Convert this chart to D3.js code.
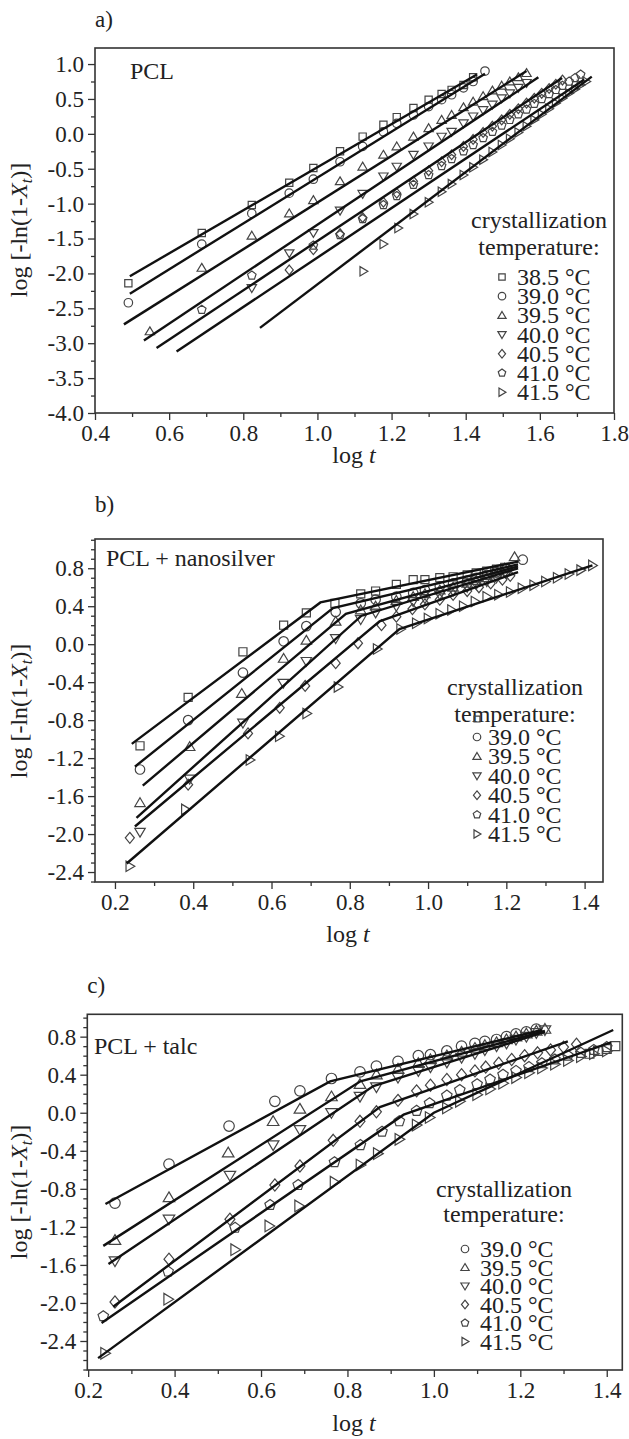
<!DOCTYPE html>
<html>
<head>
<meta charset="utf-8">
<script src="https://cdn.jsdelivr.net/npm/d3@7"></script>
<style>
body { margin: 0; background: #fff; }
svg { display: block; }
</style>
</head>
<body>
<svg width="629" height="1439"></svg>
<script>
// ---- panel a) PCL ----
var aTemps = ["38.5 °C", "39.0 °C", "39.5 °C", "40.0 °C", "40.5 °C", "41.0 °C", "41.5 °C"];
var aSyms = ["square", "circle", "up", "down", "diamond", "pentagon", "right"];
var a385 = [[0.49,-2.14],[0.688,-1.42],[0.823,-1.02],[0.924,-0.70],[0.989,-0.49],[1.061,-0.25],[1.122,-0.04],[1.178,0.13],[1.214,0.24],[1.259,0.37],[1.30,0.49],[1.335,0.57],[1.362,0.63],[1.394,0.70],[1.42,0.81]];
var a390 = [[0.49,-2.42],[0.688,-1.58],[0.823,-1.14],[0.924,-0.85],[0.989,-0.65],[1.061,-0.40],[1.122,-0.18],[1.178,0.03],[1.214,0.15],[1.259,0.27],[1.30,0.39],[1.335,0.49],[1.362,0.56],[1.394,0.66],[1.42,0.75],[1.452,0.90]];
var a395 = [[0.548,-2.83],[0.688,-1.92],[0.823,-1.46],[0.924,-1.14],[0.989,-0.95],[1.061,-0.68],[1.122,-0.47],[1.178,-0.30],[1.214,-0.18],[1.259,-0.04],[1.30,0.08],[1.335,0.20],[1.362,0.27],[1.394,0.38],[1.42,0.46],[1.447,0.54],[1.472,0.62],[1.497,0.69],[1.519,0.75],[1.542,0.81],[1.564,0.87]];
var a400 = [[0.823,-2.21],[0.924,-1.71],[0.989,-1.42],[1.061,-1.10],[1.122,-0.86],[1.178,-0.61],[1.214,-0.47],[1.259,-0.30],[1.30,-0.18],[1.335,-0.04],[1.362,0.03],[1.394,0.15],[1.42,0.25],[1.447,0.34],[1.472,0.42],[1.497,0.51],[1.519,0.58],[1.542,0.66],[1.564,0.73]];
var a405 = [[0.924,-1.95],[0.989,-1.66],[1.061,-1.43],[1.122,-1.20],[1.178,-0.98],[1.214,-0.85],[1.259,-0.68],[1.30,-0.53],[1.335,-0.40],[1.362,-0.30],[1.394,-0.18],[1.42,-0.08],[1.447,0.02],[1.472,0.11],[1.497,0.20],[1.519,0.28],[1.542,0.36],[1.564,0.44],[1.585,0.51],[1.605,0.58],[1.625,0.65],[1.643,0.71],[1.661,0.77]];
var a410 = [[0.688,-2.52],[0.823,-2.03],[0.989,-1.60],[1.061,-1.45],[1.122,-1.22],[1.178,-1.02],[1.214,-0.89],[1.259,-0.73],[1.30,-0.59],[1.335,-0.46],[1.362,-0.36],[1.394,-0.25],[1.42,-0.16],[1.447,-0.06],[1.472,0.03],[1.497,0.12],[1.519,0.20],[1.542,0.28],[1.564,0.35],[1.585,0.43],[1.605,0.50],[1.625,0.57],[1.643,0.63],[1.661,0.69],[1.679,0.75],[1.695,0.80],[1.71,0.85]];
var a415 = [[1.124,-1.97],[1.178,-1.58],[1.218,-1.35],[1.259,-1.15],[1.30,-0.98],[1.335,-0.83],[1.362,-0.72],[1.394,-0.59],[1.42,-0.48],[1.447,-0.37],[1.472,-0.26],[1.497,-0.16],[1.519,-0.07],[1.542,0.02],[1.564,0.11],[1.585,0.20],[1.605,0.28],[1.625,0.36],[1.643,0.44],[1.661,0.51],[1.679,0.58],[1.695,0.64],[1.71,0.70],[1.725,0.75]];
// fitted straight lines (end points)
var aFit = [
  [[0.494,-2.04],[1.43,0.85]],
  [[0.494,-2.29],[1.452,0.86]],
  [[0.478,-2.73],[1.564,0.90]],
  [[0.532,-2.96],[1.596,0.81]],
  [[0.566,-3.07],[1.66,0.80]],
  [[0.62,-3.12],[1.72,0.78]],
  [[0.845,-2.78],[1.74,0.82]]
];

// ---- panel b) PCL + nanosilver ----
var bTemps = ["39.0 °C", "39.5 °C", "40.0 °C", "40.5 °C", "41.0 °C", "41.5 °C"];
var bSyms = ["circle", "up", "down", "diamond", "pentagon", "right"];
var bSq = [[0.264,-1.07],[0.387,-0.56],[0.527,-0.08],[0.631,0.20],[0.689,0.33],[0.762,0.43],[0.828,0.53],[0.866,0.56],[0.919,0.63],[0.962,0.68],[0.992,0.68],[1.03,0.70],[1.064,0.71],[1.10,0.73],[1.123,0.75],[1.15,0.77],[1.175,0.79],[1.196,0.81]];
var bCi = [[0.264,-1.32],[0.387,-0.80],[0.527,-0.30],[0.631,0.03],[0.689,0.19],[0.764,0.34],[0.828,0.43],[0.866,0.47],[0.919,0.50],[0.962,0.54],[0.992,0.57],[1.03,0.61],[1.064,0.64],[1.10,0.67],[1.123,0.70],[1.15,0.73],[1.175,0.76],[1.20,0.80],[1.242,0.89]];
var bUp = [[0.264,-1.67],[0.391,-1.08],[0.524,-0.52],[0.631,-0.15],[0.689,0.04],[0.764,0.24],[0.828,0.36],[0.866,0.40],[0.919,0.46],[0.962,0.50],[0.992,0.53],[1.03,0.57],[1.064,0.60],[1.10,0.64],[1.123,0.67],[1.15,0.70],[1.175,0.74],[1.196,0.80],[1.221,0.92]];
var bDn = [[0.264,-1.98],[0.391,-1.42],[0.527,-0.83],[0.63,-0.41],[0.689,-0.18],[0.764,0.06],[0.828,0.26],[0.866,0.33],[0.919,0.40],[0.962,0.45],[0.992,0.48],[1.03,0.52],[1.064,0.56],[1.10,0.60],[1.123,0.63],[1.15,0.66],[1.175,0.70],[1.20,0.74]];
var bDi = [[0.238,-2.04],[0.387,-1.48],[0.54,-0.94],[0.621,-0.67],[0.686,-0.44],[0.764,-0.20],[0.821,0.01],[0.881,0.20],[0.919,0.29],[0.96,0.37],[0.992,0.42],[1.03,0.47],[1.064,0.52],[1.10,0.56],[1.13,0.60],[1.16,0.64],[1.19,0.68],[1.21,0.72]];
var bRt = [[0.238,-2.34],[0.38,-1.74],[0.545,-1.22],[0.62,-0.97],[0.69,-0.73],[0.77,-0.45],[0.87,-0.05],[0.93,0.16],[0.97,0.22],[1.0,0.27],[1.03,0.32],[1.06,0.36],[1.09,0.40],[1.12,0.45],[1.15,0.50],[1.18,0.52],[1.21,0.55],[1.24,0.59],[1.27,0.62],[1.30,0.66],[1.33,0.70],[1.36,0.74],[1.39,0.78],[1.42,0.83]];
var bFit = [
  [[0.243,-1.05],[0.725,0.44],[1.23,0.87]],
  [[0.251,-1.29],[0.757,0.38],[1.23,0.84]],
  [[0.271,-1.49],[0.79,0.32],[1.23,0.82]],
  [[0.255,-1.83],[0.83,0.30],[1.23,0.80]],
  [[0.251,-1.92],[0.876,0.24],[1.23,0.76]],
  [[0.23,-2.31],[0.927,0.16],[1.42,0.83]]
];

// ---- panel c) PCL + talc ----
var cTemps = ["39.0 °C", "39.5 °C", "40.0 °C", "40.5 °C", "41.0 °C", "41.5 °C"];
var cSyms = ["circle", "up", "down", "diamond", "pentagon", "right"];
var c390 = [[0.262,-0.95],[0.387,-0.54],[0.526,-0.14],[0.632,0.12],[0.69,0.23],[0.763,0.36],[0.829,0.43],[0.867,0.49],[0.917,0.54],[0.964,0.60],[0.992,0.61],[1.03,0.65],[1.064,0.70],[1.095,0.73],[1.118,0.75],[1.145,0.77],[1.168,0.80],[1.19,0.83],[1.214,0.85],[1.237,0.88]];
var c395 = [[0.262,-1.34],[0.387,-0.89],[0.524,-0.42],[0.628,-0.09],[0.69,0.04],[0.763,0.17],[0.829,0.30],[0.867,0.40],[0.917,0.46],[0.964,0.52],[0.992,0.56],[1.03,0.60],[1.064,0.64],[1.095,0.68],[1.118,0.71],[1.145,0.74],[1.168,0.77],[1.19,0.80],[1.214,0.83],[1.237,0.86],[1.257,0.88]];
var c400 = [[0.262,-1.56],[0.387,-1.12],[0.528,-0.66],[0.628,-0.34],[0.69,-0.18],[0.763,0.00],[0.829,0.17],[0.867,0.27],[0.917,0.37],[0.964,0.44],[0.992,0.48],[1.03,0.53],[1.064,0.58],[1.095,0.62],[1.118,0.66],[1.145,0.70],[1.168,0.73],[1.19,0.77],[1.214,0.80],[1.237,0.84],[1.257,0.87]];
var c405 = [[0.262,-1.99],[0.387,-1.54],[0.528,-1.12],[0.632,-0.76],[0.69,-0.56],[0.767,-0.29],[0.829,-0.09],[0.867,0.01],[0.917,0.13],[0.96,0.23],[0.992,0.29],[1.03,0.35],[1.064,0.40],[1.095,0.44],[1.12,0.48],[1.15,0.52],[1.18,0.56],[1.21,0.60],[1.24,0.63],[1.27,0.66],[1.30,0.69],[1.33,0.72]];
var c410 = [[0.235,-2.14],[0.385,-1.67],[0.54,-1.21],[0.621,-0.97],[0.686,-0.76],[0.77,-0.52],[0.83,-0.34],[0.88,-0.20],[0.92,-0.09],[0.96,0.02],[0.99,0.10],[1.03,0.18],[1.06,0.24],[1.10,0.30],[1.13,0.35],[1.16,0.40],[1.19,0.44],[1.22,0.48],[1.25,0.52],[1.28,0.56],[1.31,0.60],[1.34,0.63],[1.37,0.66],[1.40,0.69]];
var c415 = [[0.239,-2.53],[0.385,-1.96],[0.54,-1.44],[0.619,-1.19],[0.688,-0.98],[0.77,-0.73],[0.83,-0.55],[0.87,-0.43],[0.92,-0.28],[0.96,-0.13],[0.99,-0.05],[1.03,0.05],[1.06,0.12],[1.10,0.19],[1.13,0.25],[1.16,0.31],[1.19,0.37],[1.22,0.42],[1.25,0.47],[1.28,0.51],[1.31,0.55],[1.34,0.59],[1.37,0.62],[1.40,0.65]];
var cSq = [[1.36,0.62],[1.38,0.65],[1.40,0.67],[1.42,0.70]];
var cFit = [
  [[0.24,-0.96],[0.76,0.33],[1.25,0.87]],
  [[0.235,-1.40],[0.83,0.33],[1.257,0.86]],
  [[0.247,-1.59],[0.86,0.28],[1.257,0.85]],
  [[0.258,-2.04],[0.875,0.06],[1.31,0.75]],
  [[0.231,-2.21],[0.93,-0.02],[1.41,0.74]],
  [[0.223,-2.58],[1.0,0.0],[1.415,0.87]]
];

var serif = "'Liberation Serif','Times New Roman',serif";
var svg = d3.select("svg");
svg.append("rect").attr("width", 629).attr("height", 1439).attr("fill", "#fff");

var fmt = function(v) { return d3.format(".1f")(v).replace("\u2212", "-"); };

var symbolPath = function(type, s) {
  var h = s / 2;
  if (type == "square") return "M" + (-h*0.85) + "," + (-h*0.85) + "h" + (1.7*h) + "v" + (1.7*h) + "h" + (-1.7*h) + "Z";
  if (type == "circle") return "M" + h + ",0A" + h + "," + h + " 0 1,1 " + (-h) + ",0A" + h + "," + h + " 0 1,1 " + h + ",0Z";
  if (type == "up") return "M0," + (-h*1.05) + "L" + (h*1.1) + "," + (h*0.8) + "L" + (-h*1.1) + "," + (h*0.8) + "Z";
  if (type == "down") return "M0," + (h*1.05) + "L" + (h*1.1) + "," + (-h*0.8) + "L" + (-h*1.1) + "," + (-h*0.8) + "Z";
  if (type == "diamond") return "M0," + (-h*1.15) + "L" + (h*0.95) + ",0L0," + (h*1.15) + "L" + (-h*0.95) + ",0Z";
  if (type == "right") return "M" + (h*1.05) + ",0L" + (-h*0.8) + "," + (-h*1.1) + "L" + (-h*0.8) + "," + (h*1.1) + "Z";
  // pentagon
  var p = d3.range(5).map(function(k) {
    var a = -Math.PI / 2 + k * 2 * Math.PI / 5;
    return [h * 1.05 * Math.cos(a), h * 1.05 * Math.sin(a)];
  });
  return "M" + p.join("L") + "Z";
};

var range = function(a, b, st) {
  return d3.range(Math.round((b - a) / st) + 1).map(function(i) { return +(a + i * st).toFixed(3); });
};

var drawPanel = function(cfg) {
  var g = svg.append("g");
  var x = d3.scaleLinear().domain(cfg.xDom).range([cfg.left, cfg.right]);
  var y = d3.scaleLinear().domain(cfg.yDom).range([cfg.bottom, cfg.top]);

  var axes = [
    d3.axisBottom(x).tickValues(cfg.xMinor).tickSize(4).tickFormat(""),
    d3.axisBottom(x).tickValues(cfg.xMajor).tickSize(7).tickPadding(5).tickFormat(fmt),
    d3.axisLeft(y).tickValues(cfg.yMinor).tickSize(4).tickFormat(""),
    d3.axisLeft(y).tickValues(cfg.yMajor).tickSize(7).tickPadding(4).tickFormat(fmt)
  ];
  axes.forEach(function(ax, i) {
    var ag = g.append("g")
      .attr("transform", i < 2 ? "translate(0," + cfg.bottom + ")" : "translate(" + cfg.left + ",0)")
      .call(ax);
    ag.select(".domain").remove();
    ag.selectAll("line").attr("stroke", "#333").attr("stroke-width", 1.3);
    ag.selectAll("text").attr("font-family", serif).attr("font-size", 23).attr("fill", "#222");
  });

  g.append("rect")
    .attr("x", cfg.left).attr("y", cfg.top)
    .attr("width", cfg.right - cfg.left).attr("height", cfg.bottom - cfg.top)
    .attr("fill", "none").attr("stroke", "#333").attr("stroke-width", 1.6);

  var line = d3.line().x(function(d) { return x(d[0]); }).y(function(d) { return y(d[1]); });

  cfg.series.forEach(function(s) {
    g.append("g").selectAll("path")
      .data(s.pts)
      .enter().append("path")
        .attr("d", symbolPath(s.sym, cfg.symSize))
        .attr("transform", function(d) { return "translate(" + x(d[0]) + "," + y(d[1]) + ")"; })
        .attr("fill", "none").attr("stroke", "#444").attr("stroke-width", 1.2);
  });

  g.selectAll(".fit")
    .data(cfg.fits)
    .enter().append("path")
      .attr("class", "fit")
      .attr("d", line)
      .attr("fill", "none").attr("stroke", "#111").attr("stroke-width", 2.4);

  // panel letter and sample name
  g.append("text").attr("x", cfg.left).attr("y", cfg.letterY)
    .attr("font-family", serif).attr("font-size", 23).attr("fill", "#222").text(cfg.letter);
  g.append("text").attr("x", cfg.nameX).attr("y", cfg.nameY)
    .attr("font-family", serif).attr("font-size", 24).attr("fill", "#222").text(cfg.name);

  // axis titles
  var xt = g.append("text").attr("x", cfg.xTitle[0]).attr("y", cfg.xTitle[1])
    .attr("text-anchor", "middle").attr("font-family", serif).attr("font-size", 24).attr("fill", "#222");
  xt.append("tspan").text("log ");
  xt.append("tspan").attr("font-style", "italic").text("t");

  var yt = g.append("text")
    .attr("transform", "translate(" + cfg.yTitle[0] + "," + cfg.yTitle[1] + ") rotate(-90)")
    .attr("text-anchor", "middle").attr("font-family", serif).attr("font-size", 24).attr("fill", "#222");
  yt.append("tspan").text("log [-ln(1-");
  yt.append("tspan").attr("font-style", "italic").text("X");
  yt.append("tspan").attr("font-style", "italic").attr("font-size", 16).attr("dy", 5).text("t");
  yt.append("tspan").attr("dy", -5).text(")]");

  // legend
  var L = cfg.legend;
  g.append("text").attr("x", L.cx).attr("y", L.y1).attr("text-anchor", "middle")
    .attr("font-family", serif).attr("font-size", 24).attr("fill", "#222").text("crystallization");
  g.append("text").attr("x", L.cx).attr("y", L.y2).attr("text-anchor", "middle")
    .attr("font-family", serif).attr("font-size", 24).attr("fill", "#222").text("temperature:");
  if (L.orphan) {
    g.append("path").attr("d", symbolPath("square", 7))
      .attr("transform", "translate(" + L.orphan[0] + "," + L.orphan[1] + ")")
      .attr("fill", "none").attr("stroke", "#444").attr("stroke-width", 1.2);
  }
  L.labels.forEach(function(t, i) {
    var by = L.y0 + i * L.step;
    g.append("path").attr("d", symbolPath(L.syms[i], 7.5))
      .attr("transform", "translate(" + L.symX + "," + (by - 8) + ")")
      .attr("fill", "none").attr("stroke", "#444").attr("stroke-width", 1.2);
    g.append("text").attr("x", L.textX).attr("y", by)
      .attr("font-family", serif).attr("font-size", 24).attr("fill", "#222").text(t);
  });
};

drawPanel({
  left: 95, right: 614, top: 48, bottom: 413,
  xDom: [0.4, 1.8], yDom: [-4, 1.23],
  xMajor: range(0.4, 1.8, 0.2), xMinor: range(0.5, 1.7, 0.2),
  yMajor: range(-4, 1, 0.5), yMinor: range(-3.75, 0.75, 0.5),
  symSize: 8.5,
  series: [a385, a390, a395, a400, a405, a410, a415].map(function(p, i) { return {pts: p, sym: aSyms[i]}; }),
  fits: aFit,
  letter: "a)", letterY: 27, name: "PCL", nameX: 130, nameY: 79,
  xTitle: [354, 463], yTitle: [27, 230],
  legend: {cx: 539, y1: 228, y2: 255, y0: 285, step: 19.2, symX: 502, textX: 517, labels: aTemps, syms: aSyms}
});

drawPanel({
  left: 95, right: 603, top: 539, bottom: 882,
  xDom: [0.149, 1.447], yDom: [-2.505, 1.108],
  xMajor: range(0.2, 1.4, 0.2), xMinor: range(0.3, 1.3, 0.2),
  yMajor: range(-2.4, 0.8, 0.4), yMinor: range(-2.5, 1.1, 0.1).filter(function(v) { return Math.abs(Math.round(v * 10) % 4) != 0; }),
  symSize: 9.5,
  series: [bSq, bCi, bUp, bDn, bDi, bRt].map(function(p, i) { return {pts: p, sym: ["square", "circle", "up", "down", "diamond", "right"][i]}; }),
  fits: bFit,
  letter: "b)", letterY: 512, name: "PCL + nanosilver", nameX: 106, nameY: 566,
  xTitle: [348, 942], yTitle: [27, 711],
  legend: {cx: 515, y1: 695, y2: 722, y0: 745, step: 19.4, symX: 477, textX: 488, labels: bTemps, syms: bSyms, orphan: [477, 719]}
});

drawPanel({
  left: 87.3, right: 622.3, top: 1014.3, bottom: 1370,
  xDom: [0.198, 1.436], yDom: [-2.705, 1.035],
  xMajor: range(0.2, 1.4, 0.2), xMinor: range(0.3, 1.3, 0.2),
  yMajor: range(-2.4, 0.8, 0.4), yMinor: range(-2.7, 1.0, 0.1).filter(function(v) { return Math.abs(Math.round(v * 10) % 4) != 0; }),
  symSize: 10.5,
  series: [c390, c395, c400, c405, c410, c415, cSq].map(function(p, i) { return {pts: p, sym: cSyms.concat(["square"])[i]}; }),
  fits: cFit,
  letter: "c)", letterY: 993, name: "PCL + talc", nameX: 94, nameY: 1054,
  xTitle: [354, 1431], yTitle: [27, 1192],
  legend: {cx: 504, y1: 1197, y2: 1222, y0: 1257, step: 18.5, symX: 465, textX: 480, labels: cTemps, syms: cSyms}
});
</script>
</body>
</html>
